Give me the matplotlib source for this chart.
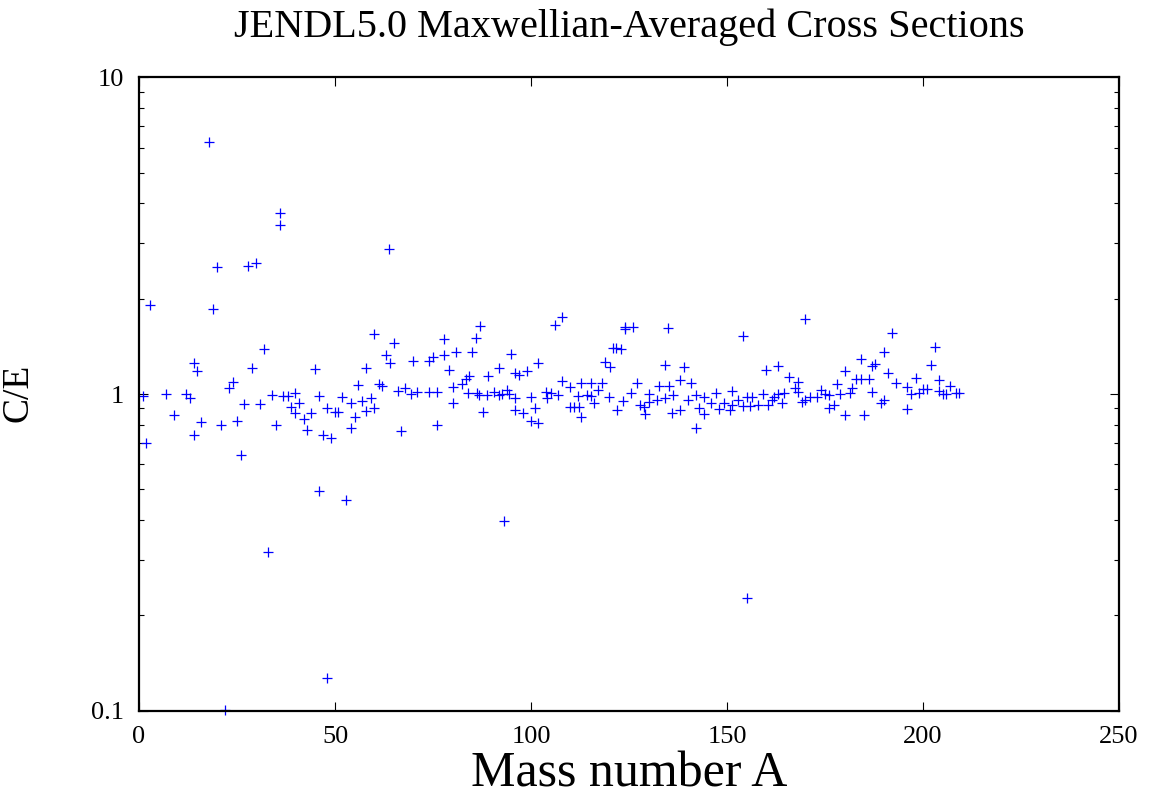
import matplotlib.pyplot as plt
from matplotlib.ticker import LogLocator, NullFormatter, FixedLocator, FixedFormatter

plt.rcParams["font.family"] = ["Liberation Serif", "DejaVu Serif"]

# values
mass_number = [
    0.9, 1.9, 2.9, 7.0, 9.0, 11.9, 13.0, 14.0, 14.0, 14.9, 15.9, 17.8, 18.9, 19.8,
    21.0, 22.0, 22.9, 23.9, 24.9, 26.0, 26.8, 27.9, 28.9, 29.9, 30.9, 31.9, 32.9,
    33.9, 35.0, 35.9, 35.9, 36.8, 38.0, 38.8, 39.8, 39.9, 40.9, 42.0, 42.9, 43.9,
    44.9, 45.8, 45.9, 46.9, 47.9, 48.0, 49.0, 50.1, 50.7, 51.9, 52.9, 54.0, 54.0,
    55.0, 55.9, 56.9, 58.0, 58.0, 59.1, 59.9, 59.9, 61.1, 62.0, 63.0, 63.9, 64.0,
    65.0, 66.0, 66.9, 67.9, 69.4, 69.9, 71.0, 73.9, 73.9, 75.0, 75.9, 75.9, 77.9,
    77.9, 79.0, 80.0, 80.0, 80.8, 82.3, 83.4, 83.9, 84.1, 84.9, 85.9, 86.1, 86.8,
    87.0, 87.8, 88.9, 89.0, 90.6, 91.9, 91.9, 92.7, 93.0, 94.0, 94.3, 94.9, 96.0,
    96.0, 96.0, 97.0, 98.0, 98.9, 99.9, 99.9, 101.0, 101.9, 101.9, 103.8, 104.0,
    105.1, 106.0, 106.8, 108.0, 108.0, 109.9, 109.9, 111.0, 111.9, 112.3, 112.8,
    112.8, 114.2, 115.2, 115.4, 116.0, 117.0, 118.0, 118.8, 120.0, 120.1, 120.9,
    121.8, 122.0, 123.0, 123.5, 123.9, 123.9, 125.6, 126.1, 127.1, 127.9, 128.8,
    129.0, 130.1, 130.1, 132.2, 132.6, 134.1, 134.3, 135.0, 135.2, 136.0, 136.3,
    138.0, 138.1, 139.0, 140.0, 140.9, 142.0, 142.0, 142.8, 144.1, 144.1, 145.8,
    147.1, 147.9, 149.2, 150.8, 151.2, 151.2, 152.9, 154.0, 154.0, 155.0, 155.1,
    155.9, 156.3, 158.0, 159.1, 160.0, 160.4, 161.4, 162.0, 163.0, 163.1, 164.0,
    164.6, 165.9, 167.4, 168.0, 168.0, 169.1, 169.9, 170.0, 171.2, 172.9, 174.0,
    175.1, 175.9, 176.1, 177.2, 178.0, 178.9, 180.0, 180.0, 181.4, 182.0, 182.9,
    184.1, 184.2, 184.9, 186.1, 186.9, 187.1, 187.8, 189.2, 190.0, 190.0, 191.0,
    192.0, 193.1, 196.0, 196.0, 197.0, 198.1, 199.0, 200.1, 201.1, 202.0, 203.0,
    204.0, 204.0, 205.0, 205.8, 207.0, 208.3, 209.2,
]
c_over_e = [
    0.986, 0.699, 1.91, 0.998, 0.858, 0.998, 0.973, 1.256, 0.742, 1.182, 0.814, 6.26, 1.85, 2.51,
    0.797, 0.1005, 1.042, 1.094, 0.823, 0.643, 0.928, 2.53, 1.211, 2.59, 0.928, 1.384, 0.316,
    0.993, 0.797, 3.74, 3.41, 0.988, 0.986, 0.912, 0.869, 1.005, 0.939, 0.834, 0.770, 0.869,
    1.199, 0.494, 0.986, 0.741, 0.901, 0.127, 0.728, 0.876, 0.876, 0.976, 0.462, 0.935, 0.781,
    0.844, 1.068, 0.948, 1.205, 0.882, 0.973, 1.543, 0.905, 1.073, 1.060, 1.325, 2.87, 1.256,
    1.446, 1.022, 0.763, 1.047, 0.998, 1.271, 1.017, 1.271, 1.017, 1.306, 1.017, 0.797, 1.488,
    1.325, 1.191, 1.050, 0.935, 1.360, 1.075, 1.113, 1.005, 1.142, 1.360, 1.506, 1.005, 0.993,
    1.639, 0.879, 0.993, 1.142, 1.017, 1.208, 0.993, 1.000, 0.397, 1.029, 1.000, 1.335, 1.168,
    0.969, 0.890, 1.148, 0.869, 1.185, 0.976, 0.823, 0.905, 1.250, 0.808, 1.017, 0.969,
    1.005, 1.648, 0.993, 1.751, 1.102, 1.050, 0.912, 0.912, 0.986, 0.912, 1.086,
    0.848, 0.993, 1.086, 0.986, 0.939, 1.029, 1.086, 1.265, 0.981, 1.219, 1.394,
    1.394, 0.890, 1.384, 0.950, 1.631, 1.604, 1.005, 1.631, 1.086, 0.923, 0.908,
    0.863, 1.000, 0.945, 0.957, 1.060, 1.237, 0.969, 1.619, 1.060, 0.869, 0.993,
    1.107, 0.890, 1.214, 0.957, 1.081, 0.993, 0.779, 0.901, 0.981, 0.863, 0.939,
    1.005, 0.895, 0.935, 0.890, 1.022, 0.923, 0.957, 1.524, 0.916, 0.227, 0.981,
    0.916, 0.976, 0.923, 1.000, 1.191, 0.923, 0.957, 0.976, 1.226, 1.000, 0.939,
    1.005, 1.134, 1.042, 1.094, 1.017, 0.945, 0.957, 1.721, 0.981, 0.981, 1.029,
    0.998, 0.993, 0.901, 0.923, 1.075, 1.000, 1.185, 0.858, 1.005, 1.042, 1.113,
    1.293, 1.113, 0.858, 1.113, 1.017, 1.226, 1.241, 0.939, 1.354, 0.957, 1.168,
    1.562, 1.081, 1.050, 0.895, 1.000, 1.121, 1.010, 1.035, 1.035, 1.232, 1.411,
    1.107, 1.024, 0.998, 0.998, 1.060, 1.010, 1.005,
]
x_ticks = [0, 50, 100, 150, 200, 250]
y_ticks = [0.1, 1, 10]
y_tick_labels = ["0.1", "1", "10"]

fig = plt.figure(figsize=(11.51, 7.99), dpi=100)
ax = fig.add_axes([139 / 1151, 1 - 710.7 / 799, 980 / 1151, 633.4 / 799])

ax.plot(mass_number, c_over_e, linestyle="none", marker="+", color="#0000ff",
        markersize=7, markeredgewidth=0.9, clip_on=False)

ax.set_yscale("log")
ax.set_xlim(0, 250)
ax.set_ylim(0.1, 10)

ax.xaxis.set_major_locator(FixedLocator(x_ticks))
ax.yaxis.set_major_locator(FixedLocator(y_ticks))
ax.yaxis.set_major_formatter(FixedFormatter(y_tick_labels))
ax.yaxis.set_minor_locator(LogLocator(base=10, subs=range(2, 10)))
ax.yaxis.set_minor_formatter(NullFormatter())

ax.tick_params(which="both", direction="in", top=True, right=True,
               labelsize=19, width=0.8, color="black")
ax.tick_params(which="major", length=6.5, pad=11)
ax.tick_params(which="minor", length=3.5)
for sp in ax.spines.values():
    sp.set_linewidth(1.6)

fig.text(629 / 1151, 1 - 27 / 799, "JENDL5.0 Maxwellian-Averaged Cross Sections",
         ha="center", va="center", fontsize=29)
ax.set_xlabel("Mass number A", fontsize=36, labelpad=2)
fig.text(1 / 1151, 1 - 393 / 799, "C/E", rotation=90, ha="left", va="center",
         fontsize=27)

fig.savefig("out.png", dpi=100)
